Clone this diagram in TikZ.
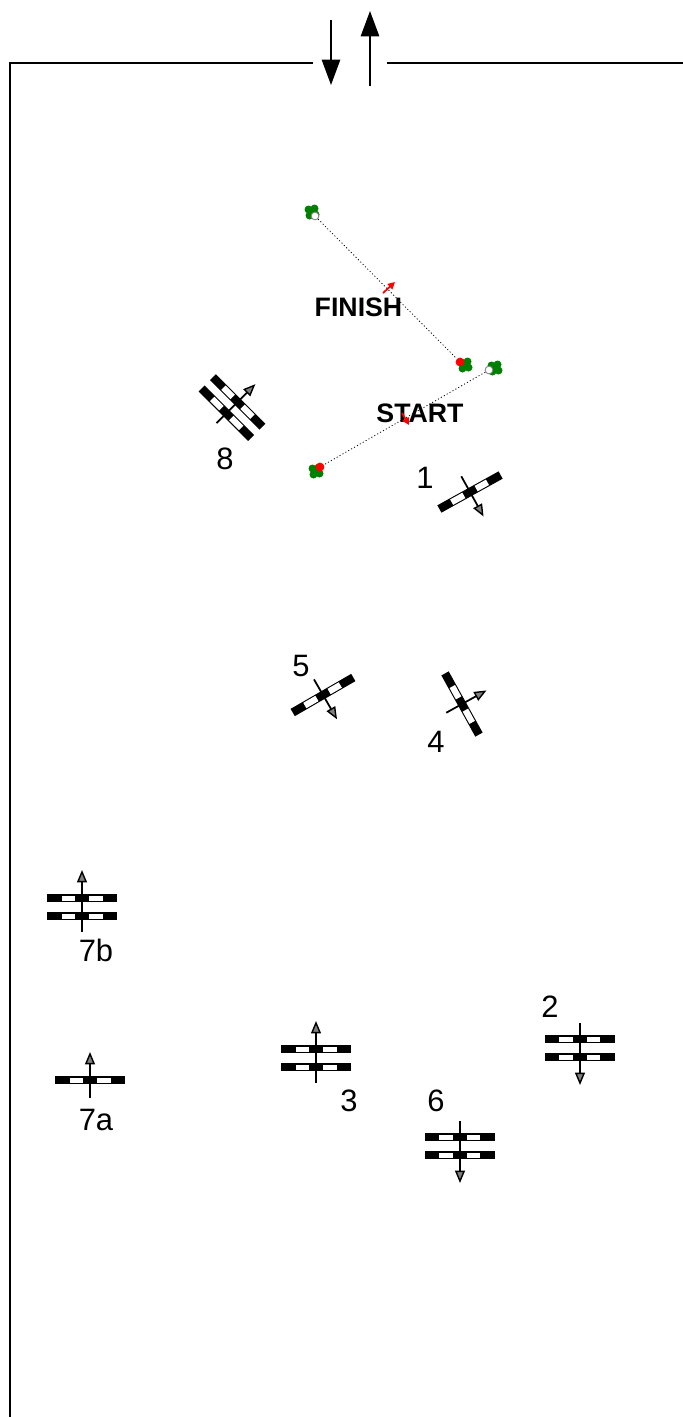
\documentclass[tikz,border=0pt]{standalone}
\usepackage{fontspec}
\setmainfont{Liberation Sans}
\usetikzlibrary{arrows.meta}

\begin{document}
\begin{tikzpicture}[
  x=0.02cm, y=-0.02cm,
  barwidth/.store in=\barwidth, barwidth=3.6,
  wall/.style={line width=0.95pt},
  traffic/.style={line width=0.95pt, -{Triangle[length=14.5pt, width=10.5pt]}},
  path/.style={line width=0.45pt, dash pattern=on 0.6pt off 1.3pt},
  heading/.style={line width=1pt, -{Triangle[length=7pt, width=5.6pt, fill=gray, line width=0.8pt]}},
  move/.style={red, line width=1pt, -{Triangle[length=4pt, width=4pt]}},
  label/.style={font=\fontsize{17.6}{18}\selectfont, inner sep=0pt},
  place/.style={font=\bfseries\fontsize{15.2}{16}\selectfont, inner sep=0pt},
  bar/.pic={
    \fill (-35,-\barwidth) rectangle (35,\barwidth);
    \fill[white] (-20,{1.1-\barwidth}) rectangle (-7,{\barwidth-1.1});
    \fill[white] (7,{1.1-\barwidth}) rectangle (21,{\barwidth-1.1});
  },
  singlerack/.pic={
    \pic[transform shape] at (0,0) {bar};
    \coordinate (-tail) at (0,18);
    \coordinate (-tip) at (0,-28);
    \draw[heading] (-tail) -- (-tip);
  },
  doublerack/.pic={
    \pic[transform shape] at (0,-9) {bar};
    \pic[transform shape] at (0,9) {bar};
    \coordinate (-tail) at (0,25);
    \coordinate (-tip) at (0,-37);
    \draw[heading] (-tail) -- (-tip);
  },
  shortrack/.pic={
    \pic[transform shape] at (0,-8) {bar};
    \pic[transform shape] at (0,8) {bar};
    \coordinate (-tail) at (0,22);
    \coordinate (-tip) at (0,-33);
    \draw[heading] (-tail) -- (-tip);
  },
  blob/.pic={
    \fill[green!50!black] (-3.5,-2.5) circle (4) (2.5,-3.5) circle (4) (3.5,2.5) circle (4) (-2.5,3.5) circle (4) (0,0) circle (4);
  }
]
\useasboundingbox (0,0) rectangle (683,1417);

\coordinate (wallbottom) at (10,1417);
\coordinate (wallcorner) at (10,63);
\coordinate (wallleft) at (313,63);
\coordinate (wallright) at (387,63);
\coordinate (wallend) at (683,63);
\draw[wall] (wallbottom) -- (wallcorner) -- (wallleft);
\draw[wall] (wallright) -- (wallend);

\coordinate (downtail) at (331,20);
\coordinate (downtip) at (331,85);
\coordinate (uptail) at (370,86);
\coordinate (uptip) at (370,11);
\draw[traffic] (downtail) -- (downtip);
\draw[traffic] (uptail) -- (uptip);

\pic at (312,212) {blob};
\pic at (465,365) {blob};
\pic at (495,368) {blob};
\pic at (316,471) {blob};

\node[circle, draw=gray, fill=white, line width=0.5pt, minimum size=4.4pt, inner sep=0pt] (finishopen) at (315,216) {};
\node[circle, fill=red, minimum size=5pt, inner sep=0pt] (finishred) at (460,362) {};
\node[circle, draw=gray, fill=white, line width=0.5pt, minimum size=4.4pt, inner sep=0pt] (startopen) at (489,370) {};
\node[circle, fill=red, minimum size=5pt, inner sep=0pt] (startred) at (320,467) {};

\draw[path] (finishopen) -- (finishred);
\draw[path] (startopen) -- (startred);

\node[place] (finish) at (358.5,307) {FINISH};
\node[place] (start) at (420,413) {START};

\coordinate (finishtail) at (383,293);
\coordinate (finishtip) at (395,282);
\coordinate (starttail) at (402,413);
\coordinate (starttip) at (409,425);
\draw[move] (finishtail) -- (finishtip);
\draw[move] (starttail) -- (starttip);

\pic[rotate=-151, barwidth=4.2] (rackone) at (470,492) {singlerack};
\pic[rotate=180] (racktwo) at (580,1048) {doublerack};
\pic (rackthree) at (316,1058) {doublerack};
\pic[rotate=-61, barwidth=4.2] (rackfour) at (462,704) {singlerack};
\pic[rotate=-150, barwidth=4.2] (rackfive) at (323,695) {singlerack};
\pic[rotate=180] (racksix) at (460,1146) {doublerack};
\pic (racksevena) at (90,1080) {singlerack};
\pic (racksevenb) at (82,907) {doublerack};
\pic[rotate=-45, barwidth=4.2] (rackeight) at (232,407.5) {shortrack};

\node[label] (labelone) at (425,478) {1};
\node[label] (labeltwo) at (550,1006.5) {2};
\node[label] (labelthree) at (349,1100.5) {3};
\node[label] (labelfour) at (436,741.5) {4};
\node[label] (labelfive) at (301,666.5) {5};
\node[label] (labelsix) at (436,1100.5) {6};
\node[label] (labelsevena) at (96,1120) {7a};
\node[label] (labelsevenb) at (96,950) {7b};
\node[label] (labeleight) at (225,458.5) {8};

\end{tikzpicture}
\end{document}
